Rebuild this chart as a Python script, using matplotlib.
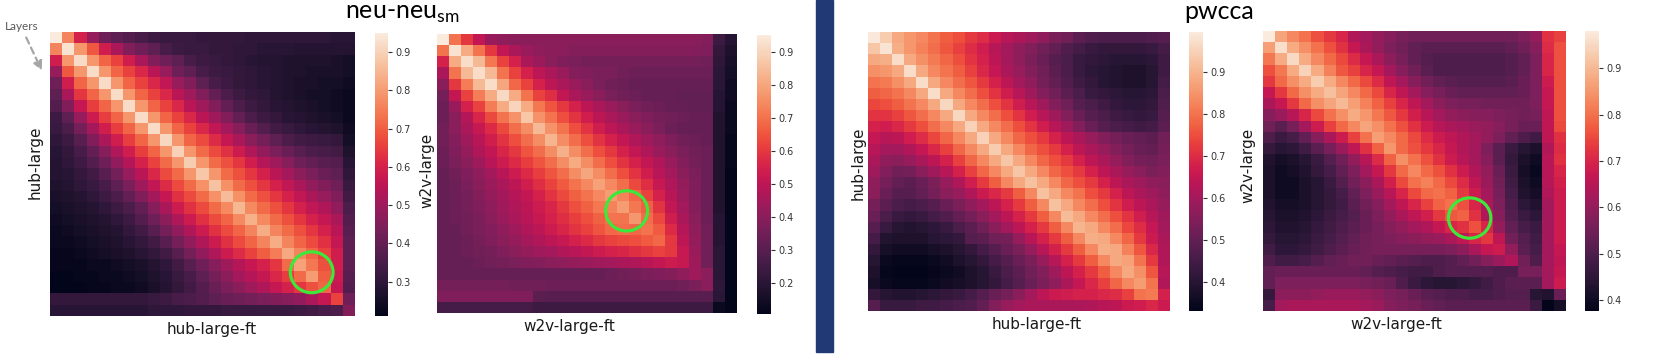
import numpy as np
import matplotlib
matplotlib.use("Agg")
import matplotlib.pyplot as plt
import seaborn as sns
from matplotlib.patches import Ellipse, Rectangle, FancyArrowPatch

# layer-by-layer similarity (x100); rows = pretrained layers, cols = fine-tuned layers
hub_neu = [
    [95, 76, 60, 49, 42, 39, 37, 35, 33, 32, 32, 32, 31, 31, 31, 31, 30, 30, 30, 30, 30, 30, 30, 29, 29],
    [76, 93, 79, 69, 59, 52, 45, 42, 39, 35, 33, 32, 32, 31, 31, 30, 30, 29, 29, 29, 28, 28, 28, 28, 28],
    [59, 79, 92, 79, 71, 66, 59, 52, 45, 42, 39, 35, 33, 32, 31, 30, 29, 28, 28, 27, 27, 27, 27, 26, 25],
    [49, 69, 79, 92, 79, 71, 66, 61, 55, 49, 42, 39, 35, 33, 32, 31, 30, 29, 28, 27, 27, 26, 26, 26, 25],
    [42, 59, 71, 79, 92, 79, 71, 66, 61, 56, 49, 45, 39, 35, 33, 31, 30, 29, 28, 27, 26, 26, 25, 25, 24],
    [39, 52, 64, 71, 79, 92, 79, 71, 66, 61, 55, 50, 45, 40, 36, 33, 31, 30, 28, 27, 26, 25, 25, 24, 23],
    [37, 45, 57, 65, 71, 79, 92, 79, 71, 66, 61, 55, 50, 45, 40, 36, 33, 31, 29, 28, 27, 26, 25, 24, 23],
    [33, 39, 49, 58, 65, 71, 79, 92, 79, 71, 66, 61, 55, 50, 45, 40, 36, 33, 31, 29, 28, 27, 26, 25, 23],
    [32, 36, 43, 51, 59, 65, 71, 79, 92, 79, 71, 66, 61, 56, 51, 46, 41, 37, 34, 32, 30, 29, 28, 27, 24],
    [30, 33, 38, 45, 52, 59, 65, 71, 79, 91, 79, 71, 67, 62, 57, 52, 47, 43, 39, 36, 34, 33, 32, 31, 25],
    [29, 31, 35, 40, 46, 53, 59, 65, 71, 79, 90, 79, 72, 67, 63, 58, 53, 48, 44, 41, 38, 36, 35, 34, 27],
    [28, 30, 33, 37, 42, 48, 54, 60, 66, 72, 79, 89, 79, 72, 68, 64, 59, 54, 50, 46, 42, 40, 38, 37, 29],
    [28, 29, 31, 34, 38, 43, 49, 55, 61, 67, 72, 79, 88, 79, 72, 68, 64, 60, 55, 51, 47, 44, 41, 39, 30],
    [27, 28, 30, 32, 35, 39, 44, 50, 56, 62, 67, 72, 78, 87, 78, 72, 68, 64, 60, 56, 52, 48, 45, 42, 32],
    [26, 27, 28, 30, 33, 36, 40, 45, 51, 57, 63, 67, 72, 78, 86, 78, 72, 68, 64, 60, 56, 52, 49, 45, 34],
    [25, 26, 27, 28, 30, 33, 36, 40, 46, 52, 58, 63, 67, 72, 77, 85, 77, 72, 68, 64, 60, 56, 53, 48, 36],
    [24, 25, 26, 27, 28, 30, 33, 37, 42, 47, 53, 58, 63, 67, 71, 77, 84, 77, 72, 68, 64, 60, 57, 52, 37],
    [23, 24, 25, 26, 27, 28, 31, 34, 38, 43, 48, 53, 58, 63, 67, 71, 76, 83, 76, 72, 68, 64, 60, 55, 38],
    [23, 23, 24, 25, 26, 27, 29, 31, 34, 38, 43, 48, 53, 58, 63, 67, 71, 76, 83, 76, 71, 67, 63, 57, 39],
    [22, 22, 23, 24, 25, 26, 27, 29, 31, 34, 38, 43, 48, 53, 58, 62, 66, 70, 75, 82, 76, 71, 66, 59, 39],
    [22, 22, 22, 23, 23, 24, 25, 26, 28, 30, 34, 38, 42, 46, 50, 54, 57, 60, 64, 72, 81, 74, 68, 59, 39],
    [21, 21, 22, 22, 23, 23, 24, 25, 27, 29, 32, 35, 39, 43, 47, 51, 54, 57, 61, 65, 72, 80, 70, 58, 38],
    [21, 21, 21, 22, 22, 23, 23, 24, 26, 28, 31, 34, 37, 41, 44, 47, 50, 53, 57, 60, 64, 68, 71, 57, 37],
    [31, 31, 31, 31, 31, 31, 31, 31, 32, 33, 35, 36, 37, 39, 41, 42, 43, 44, 45, 46, 48, 52, 57, 66, 42],
    [29, 29, 29, 29, 29, 29, 29, 29, 30, 30, 30, 31, 31, 31, 32, 32, 32, 32, 32, 32, 33, 34, 35, 36, 45],
]

w2v_neu = [
    [95, 70, 60, 51, 43, 41, 40, 40, 40, 40, 40, 40, 40, 40, 40, 40, 40, 40, 40, 40, 40, 40, 39, 24, 19],
    [70, 93, 81, 70, 60, 51, 46, 43, 41, 40, 40, 39, 39, 39, 39, 39, 39, 39, 39, 39, 39, 39, 38, 22, 17],
    [55, 81, 92, 84, 71, 62, 55, 46, 43, 40, 38, 37, 36, 36, 36, 36, 36, 36, 36, 36, 36, 36, 35, 21, 16],
    [46, 70, 84, 92, 84, 70, 62, 55, 50, 46, 43, 39, 38, 37, 37, 35, 34, 34, 34, 34, 34, 34, 34, 20, 15],
    [40, 60, 72, 84, 92, 80, 68, 62, 55, 50, 46, 43, 40, 37, 35, 34, 33, 33, 33, 33, 33, 33, 33, 20, 14],
    [36, 51, 62, 72, 81, 91, 81, 70, 62, 58, 51, 46, 43, 40, 37, 35, 34, 33, 33, 33, 32, 32, 32, 19, 14],
    [34, 43, 55, 62, 72, 81, 90, 81, 71, 65, 60, 55, 50, 46, 43, 40, 37, 35, 34, 33, 33, 32, 32, 19, 13],
    [34, 40, 48, 56, 63, 70, 76, 87, 76, 70, 64, 59, 54, 50, 46, 43, 40, 38, 36, 35, 34, 33, 33, 18, 13],
    [35, 40, 46, 52, 57, 63, 69, 75, 84, 76, 70, 64, 59, 54, 50, 46, 43, 40, 37, 34, 33, 33, 33, 18, 13],
    [35, 39, 44, 49, 54, 59, 64, 69, 75, 83, 75, 69, 64, 59, 55, 51, 47, 44, 41, 38, 35, 34, 33, 18, 12],
    [34, 38, 42, 47, 51, 56, 60, 65, 69, 75, 82, 75, 69, 64, 60, 55, 51, 47, 43, 40, 37, 35, 34, 18, 12],
    [34, 37, 40, 44, 49, 53, 57, 61, 65, 69, 75, 81, 75, 69, 64, 59, 55, 51, 47, 43, 39, 36, 34, 18, 12],
    [33, 35, 38, 41, 45, 49, 53, 57, 61, 65, 69, 75, 80, 75, 69, 64, 59, 54, 49, 45, 40, 37, 34, 18, 11],
    [33, 34, 37, 40, 43, 46, 50, 54, 58, 62, 66, 70, 74, 79, 74, 69, 63, 58, 52, 47, 42, 38, 34, 18, 11],
    [33, 34, 36, 39, 42, 45, 48, 51, 55, 59, 63, 67, 70, 74, 78, 73, 68, 62, 55, 49, 43, 38, 34, 18, 11],
    [33, 34, 36, 38, 41, 44, 47, 50, 53, 56, 60, 64, 67, 71, 73, 78, 71, 67, 59, 51, 45, 39, 34, 18, 11],
    [33, 34, 35, 37, 40, 43, 46, 49, 52, 55, 58, 61, 64, 67, 70, 70, 77, 69, 63, 54, 46, 40, 34, 19, 11],
    [33, 33, 35, 37, 39, 41, 44, 47, 50, 53, 56, 59, 62, 65, 68, 69, 68, 70, 66, 57, 48, 41, 35, 19, 11],
    [33, 33, 34, 36, 38, 40, 42, 45, 47, 50, 52, 55, 57, 60, 62, 63, 64, 66, 68, 60, 50, 42, 35, 19, 11],
    [33, 33, 34, 35, 36, 38, 40, 42, 44, 45, 47, 49, 51, 53, 55, 56, 58, 60, 62, 60, 52, 43, 35, 20, 11],
    [33, 33, 33, 34, 35, 36, 37, 38, 39, 40, 41, 42, 43, 44, 45, 46, 47, 49, 51, 53, 52, 44, 35, 20, 11],
    [33, 33, 33, 33, 33, 33, 33, 33, 33, 33, 33, 33, 33, 33, 34, 35, 36, 37, 38, 39, 41, 44, 40, 20, 11],
    [36, 36, 36, 36, 36, 36, 35, 35, 35, 34, 34, 34, 34, 34, 34, 34, 34, 34, 34, 34, 35, 37, 40, 21, 11],
    [38, 38, 38, 38, 38, 38, 38, 38, 31, 30, 30, 30, 30, 30, 30, 30, 30, 30, 30, 30, 30, 30, 30, 20, 11],
    [26, 26, 26, 26, 26, 26, 26, 26, 24, 24, 24, 24, 24, 24, 24, 24, 24, 24, 24, 24, 24, 24, 24, 13, 11],
]

hub_pwcca = [
    [99, 94, 88, 85, 83, 80, 77, 75, 72, 70, 66, 63, 61, 59, 57, 54, 52, 49, 47, 46, 46, 46, 46, 47, 48],
    [93, 98, 89, 85, 82, 79, 76, 73, 70, 67, 63, 60, 57, 55, 52, 50, 47, 45, 43, 42, 42, 42, 42, 43, 45],
    [88, 89, 97, 88, 84, 81, 78, 75, 71, 68, 64, 60, 57, 54, 51, 48, 46, 43, 42, 41, 40, 40, 40, 41, 44],
    [84, 85, 88, 97, 88, 83, 80, 77, 73, 69, 65, 61, 58, 55, 52, 49, 46, 43, 41, 40, 39, 38, 38, 40, 44],
    [80, 81, 84, 88, 97, 88, 83, 79, 76, 72, 68, 64, 60, 57, 53, 50, 47, 44, 42, 40, 39, 38, 38, 40, 45],
    [77, 78, 80, 83, 88, 97, 88, 83, 79, 75, 71, 67, 63, 59, 55, 52, 49, 46, 43, 42, 41, 40, 40, 41, 46],
    [74, 75, 77, 80, 83, 88, 96, 88, 83, 79, 75, 71, 67, 63, 59, 55, 52, 48, 46, 44, 42, 41, 41, 42, 47],
    [71, 71, 73, 76, 79, 83, 88, 96, 88, 83, 79, 75, 71, 67, 63, 59, 55, 51, 48, 46, 44, 43, 42, 43, 48],
    [68, 67, 69, 72, 75, 79, 83, 88, 95, 88, 83, 79, 75, 71, 67, 63, 59, 55, 51, 48, 46, 45, 44, 45, 49],
    [65, 63, 64, 67, 70, 74, 78, 83, 88, 95, 88, 83, 78, 75, 72, 68, 64, 61, 58, 55, 53, 51, 50, 49, 52],
    [63, 60, 60, 62, 65, 69, 73, 78, 83, 88, 94, 88, 83, 78, 75, 72, 68, 64, 61, 58, 55, 53, 51, 50, 53],
    [61, 57, 56, 58, 61, 64, 68, 73, 78, 83, 88, 93, 88, 83, 78, 75, 72, 68, 64, 61, 58, 55, 53, 52, 54],
    [59, 55, 52, 53, 56, 59, 63, 68, 73, 78, 83, 88, 93, 88, 83, 78, 75, 72, 68, 64, 61, 58, 56, 54, 55],
    [57, 53, 50, 49, 51, 54, 58, 62, 67, 72, 77, 83, 88, 92, 88, 83, 78, 75, 72, 68, 64, 61, 59, 57, 56],
    [56, 51, 48, 48, 50, 53, 56, 58, 62, 66, 69, 72, 77, 83, 92, 88, 83, 80, 75, 72, 68, 64, 61, 59, 57],
    [53, 49, 46, 45, 46, 48, 51, 54, 57, 60, 64, 68, 72, 77, 83, 92, 88, 83, 79, 75, 71, 67, 64, 61, 58],
    [51, 46, 43, 42, 43, 45, 47, 50, 53, 56, 60, 64, 68, 72, 77, 83, 91, 88, 83, 79, 75, 71, 67, 63, 59],
    [48, 43, 40, 39, 40, 41, 43, 46, 49, 52, 56, 60, 64, 68, 72, 77, 83, 90, 88, 83, 79, 74, 70, 65, 60],
    [45, 39, 38, 38, 38, 40, 41, 42, 48, 49, 52, 53, 58, 63, 68, 72, 77, 83, 89, 88, 83, 78, 72, 66, 61],
    [42, 37, 36, 36, 36, 37, 38, 40, 42, 45, 48, 51, 54, 58, 63, 68, 72, 77, 83, 89, 88, 82, 76, 69, 62],
    [40, 35, 34, 34, 34, 35, 36, 38, 40, 42, 45, 48, 51, 54, 58, 63, 68, 72, 77, 83, 88, 87, 80, 72, 62],
    [38, 34, 33, 33, 33, 34, 35, 36, 38, 40, 43, 46, 49, 52, 55, 59, 64, 68, 72, 77, 83, 88, 84, 76, 63],
    [37, 35, 34, 34, 34, 35, 36, 37, 38, 40, 42, 45, 48, 51, 54, 57, 61, 65, 69, 73, 78, 83, 86, 80, 62],
    [42, 40, 39, 39, 40, 41, 42, 43, 45, 48, 51, 53, 56, 60, 64, 66, 67, 68, 68, 69, 70, 73, 80, 81, 68],
    [48, 43, 43, 43, 44, 44, 45, 46, 47, 50, 55, 58, 60, 61, 61, 61, 61, 61, 62, 63, 64, 66, 67, 69, 66],
]

w2v_pwcca = [
    [98, 87, 83, 80, 76, 73, 70, 64, 62, 60, 58, 56, 55, 55, 55, 55, 55, 55, 55, 55, 55, 57, 60, 72, 74],
    [86, 96, 88, 84, 80, 76, 72, 67, 63, 60, 57, 55, 53, 52, 52, 52, 52, 52, 52, 52, 53, 55, 58, 71, 76],
    [81, 88, 95, 88, 83, 79, 75, 71, 67, 63, 59, 56, 53, 51, 50, 50, 50, 50, 50, 50, 51, 53, 57, 70, 76],
    [76, 81, 88, 94, 88, 82, 77, 74, 70, 67, 62, 58, 55, 52, 50, 50, 50, 50, 50, 50, 51, 53, 57, 70, 76],
    [73, 79, 84, 88, 93, 88, 83, 79, 75, 71, 66, 62, 58, 55, 53, 52, 51, 51, 51, 51, 52, 54, 57, 68, 76],
    [67, 73, 79, 84, 88, 91, 87, 83, 79, 75, 70, 66, 62, 58, 56, 54, 53, 53, 53, 53, 53, 54, 57, 67, 76],
    [63, 67, 73, 79, 84, 87, 90, 86, 82, 78, 74, 70, 66, 62, 59, 57, 56, 56, 55, 55, 55, 55, 57, 67, 76],
    [58, 61, 65, 70, 75, 80, 84, 88, 85, 81, 77, 73, 69, 65, 62, 60, 59, 58, 58, 57, 56, 55, 56, 66, 76],
    [55, 52, 56, 62, 68, 74, 79, 83, 87, 84, 80, 76, 72, 68, 65, 63, 62, 61, 60, 58, 56, 54, 54, 66, 75],
    [50, 47, 49, 53, 58, 63, 68, 74, 80, 86, 83, 79, 75, 71, 68, 66, 64, 62, 60, 57, 53, 50, 48, 66, 72],
    [46, 44, 45, 48, 52, 56, 61, 66, 72, 78, 85, 79, 76, 73, 70, 67, 64, 62, 57, 52, 47, 44, 42, 64, 71],
    [43, 41, 42, 44, 47, 51, 55, 60, 65, 71, 78, 84, 80, 76, 72, 68, 65, 62, 58, 52, 46, 42, 40, 65, 72],
    [42, 40, 41, 43, 46, 49, 53, 57, 62, 67, 73, 79, 83, 79, 76, 72, 68, 64, 60, 54, 47, 41, 39, 65, 70],
    [42, 40, 40, 42, 44, 47, 51, 55, 59, 63, 69, 75, 80, 82, 79, 75, 71, 66, 61, 55, 48, 42, 40, 65, 69],
    [42, 40, 40, 42, 44, 46, 49, 53, 57, 61, 65, 70, 75, 79, 80, 78, 73, 68, 62, 56, 49, 43, 41, 64, 68],
    [43, 41, 41, 42, 44, 46, 48, 52, 55, 58, 62, 66, 70, 74, 78, 80, 76, 70, 63, 57, 50, 45, 43, 62, 68],
    [44, 42, 42, 43, 45, 47, 49, 51, 54, 57, 60, 63, 66, 69, 73, 77, 78, 72, 64, 58, 51, 47, 45, 62, 68],
    [45, 43, 43, 44, 46, 48, 50, 52, 54, 56, 58, 60, 62, 64, 67, 70, 72, 76, 70, 60, 53, 49, 47, 62, 68],
    [46, 44, 44, 45, 47, 49, 51, 53, 55, 56, 57, 58, 59, 60, 61, 63, 66, 70, 73, 66, 55, 51, 48, 62, 68],
    [48, 45, 45, 46, 48, 50, 52, 54, 55, 56, 56, 56, 56, 56, 56, 57, 59, 63, 67, 68, 60, 52, 49, 62, 67],
    [50, 48, 48, 49, 51, 53, 54, 55, 55, 54, 53, 52, 51, 50, 50, 51, 53, 55, 58, 61, 64, 55, 50, 62, 66],
    [53, 54, 54, 54, 54, 54, 54, 54, 53, 51, 50, 49, 48, 48, 50, 51, 51, 51, 51, 50, 50, 56, 56, 62, 67],
    [53, 57, 57, 57, 57, 57, 57, 57, 56, 55, 54, 50, 47, 45, 44, 44, 45, 46, 48, 50, 52, 52, 52, 62, 68],
    [46, 59, 59, 59, 60, 61, 61, 61, 60, 59, 57, 56, 54, 52, 51, 50, 50, 49, 49, 50, 51, 51, 44, 43, 54],
    [49, 62, 63, 63, 63, 63, 63, 63, 62, 61, 58, 57, 56, 54, 53, 52, 52, 52, 52, 52, 52, 52, 47, 38, 41],
]

matrices = [hub_neu, w2v_neu, hub_pwcca, w2v_pwcca]
row_names = ["hub-large", "w2v-large", "hub-large", "w2v-large"]
col_names = ["hub-large-ft", "w2v-large-ft", "hub-large-ft", "w2v-large-ft"]
color_ranges = [(0.21, 0.95), (0.107, 0.95), (0.33, 0.995), (0.377, 0.98)]
cbar_ticks = [
    [0.3, 0.4, 0.5, 0.6, 0.7, 0.8, 0.9],
    [0.2, 0.3, 0.4, 0.5, 0.6, 0.7, 0.8, 0.9],
    [0.4, 0.5, 0.6, 0.7, 0.8, 0.9],
    [0.4, 0.5, 0.6, 0.7, 0.8, 0.9],
]
# circled layer pair (col, row) in each panel
circled = [(21.45, 21.15), (15.8, 15.85), None, (17.05, 16.7)]
titles = ["neu-neu$_{\\mathregular{sm}}$", "pwcca"]

W, H = 1654, 358
fig = plt.figure(figsize=(W / 100, H / 100), dpi=100)


def box(x0, y0, x1, y1):
    return [x0 / W, 1 - y1 / H, (x1 - x0) / W, (y1 - y0) / H]


heat_px = [(50, 32, 355, 316), (437, 34, 737, 313), (868, 32, 1170, 311), (1263, 31, 1566, 311)]
cbar_px = [(375, 33, 388, 316), (757, 35, 771, 314), (1189, 32, 1203, 311), (1585, 31, 1599, 311)]
ylab_pos = [(-0.023, 0.54), (-0.008, 0.51), (-0.008, 0.53), (-0.026, 0.52)]
xlab_pos = [(0.53, -0.02), (0.44, -0.02), (0.56, -0.02), (0.44, -0.02)]

for i in range(4):
    ax = fig.add_axes(box(*heat_px[i]))
    cax = fig.add_axes(box(*cbar_px[i]))
    data = np.array(matrices[i]) / 100.0
    vmin, vmax = color_ranges[i]
    sns.heatmap(data, ax=ax, cbar_ax=cax, cmap="rocket", vmin=vmin, vmax=vmax,
                xticklabels=False, yticklabels=False)
    ax.set_ylabel(row_names[i], fontsize=11, color="#1a1a1a")
    ax.set_xlabel(col_names[i], fontsize=11, color="#1a1a1a")
    ax.yaxis.set_label_coords(*ylab_pos[i])
    ax.xaxis.set_label_coords(*xlab_pos[i])
    cax.set_yticks(cbar_ticks[i])
    cax.set_yticklabels([f"{t:.1f}" for t in cbar_ticks[i]])
    cax.tick_params(labelsize=7, length=3, width=0.8, colors="#333333", pad=2)
    if circled[i] is not None:
        cx, cy = circled[i]
        ax.add_patch(Ellipse((cx, cy), 3.5, 3.6, fill=False, ec="#3ee83a", lw=2.3, zorder=5))

# divider between the two metrics
fig.patches.append(Rectangle((816 / W, 1 - 352 / H), 17 / W, 352 / H,
                             transform=fig.transFigure, color="#213a76", zorder=0))

fig.text(402 / W, 1 - 19 / H, titles[0], family="Lato", fontsize=18, ha="center", va="baseline")
fig.text(1219 / W, 1 - 19 / H, titles[1], family="Lato", fontsize=18, ha="center", va="baseline")

fig.text(5 / W, 1 - 30 / H, "Layers", family="Lato", fontsize=8.5, color="#5a5a5a", va="baseline")
fig.add_artist(FancyArrowPatch(
    (25 / W, 1 - 35 / H), (43 / W, 1 - 73 / H), transform=fig.transFigure,
    arrowstyle="-|>", mutation_scale=13, linestyle=(0, (3, 2)), color="#a6a6a6", lw=1.6))

fig.savefig("out.png", dpi=100)
